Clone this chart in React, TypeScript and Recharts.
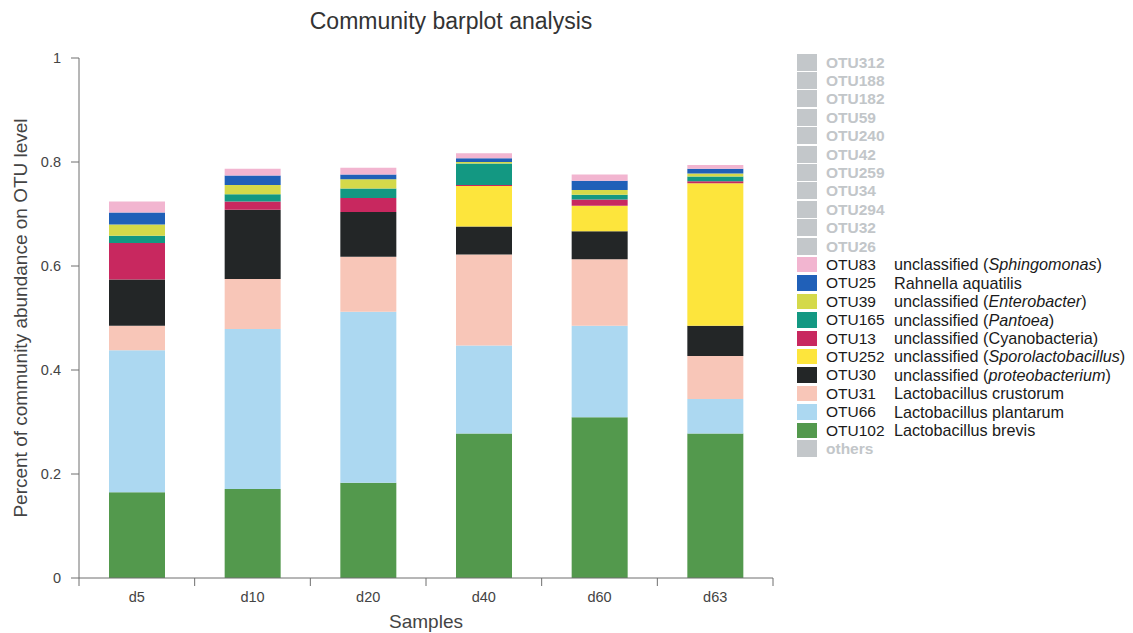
import { BarChart, Bar, XAxis, YAxis } from "recharts";

const C_AXIS = "#6f6f6f";
const C_TICK = "#444444";
const C_GREY = "#c3c7ca";
const C_GREY_TEXT = "#c2c6c9";
const FONT = "'Liberation Sans', Arial, sans-serif";

const samples = ["d5", "d10", "d20", "d40", "d60", "d63"];

// relative abundance per sample (bottom -> top)
const otu102 = [0.165, 0.171, 0.183, 0.278, 0.309, 0.278];
const otu66 = [0.273, 0.308, 0.329, 0.169, 0.176, 0.066];
const otu31 = [0.047, 0.096, 0.106, 0.175, 0.128, 0.083];
const otu30 = [0.089, 0.133, 0.086, 0.054, 0.054, 0.058];
const otu252 = [0, 0, 0, 0.078, 0.049, 0.274];
const otu13 = [0.07, 0.016, 0.027, 0.002, 0.012, 0.004];
const otu165 = [0.014, 0.014, 0.018, 0.041, 0.009, 0.009];
const otu39 = [0.022, 0.018, 0.018, 0.003, 0.009, 0.006];
const otu25 = [0.023, 0.018, 0.009, 0.007, 0.018, 0.009];
const otu83 = [0.021, 0.013, 0.013, 0.01, 0.012, 0.007];

const stackOrder = ["OTU102", "OTU66", "OTU31", "OTU30", "OTU252", "OTU13", "OTU165", "OTU39", "OTU25", "OTU83"];
const stackValues = [otu102, otu66, otu31, otu30, otu252, otu13, otu165, otu39, otu25, otu83];
const stackColors = ["#53994d", "#acd8f1", "#f8c6b8", "#232627", "#fde53c", "#c8285f", "#139882", "#d4d94a", "#2060b8", "#f2b5d0"];

// legend (top -> bottom)
const greyedOtus = ["OTU312", "OTU188", "OTU182", "OTU59", "OTU240", "OTU42", "OTU259", "OTU34", "OTU294", "OTU32", "OTU26"];
const legendOtus = ["OTU83", "OTU25", "OTU39", "OTU165", "OTU13", "OTU252", "OTU30", "OTU31", "OTU66", "OTU102"];
const legendTaxa = [
  "unclassified (*Sphingomonas*)",
  "Rahnella aquatilis",
  "unclassified (*Enterobacter*)",
  "unclassified (*Pantoea*)",
  "unclassified (Cyanobacteria)",
  "unclassified (*Sporolactobacillus*)",
  "unclassified (*proteobacterium*)",
  "Lactobacillus crustorum",
  "Lactobacillus plantarum",
  "Lactobacillus brevis",
];

const yTicks = [0, 0.2, 0.4, 0.6, 0.8, 1];

const data = samples.map((s, i) => {
  const row: Record<string, string | number> = { sample: s };
  stackOrder.forEach((k, j) => {
    row[k] = stackValues[j][i];
  });
  return row;
});

function Taxon({ text }: { text: string }) {
  const parts = text.split("*");
  return (
    <>
      {parts.map((p, i) => (i % 2 === 1 ? <i key={i}>{p}</i> : <span key={i}>{p}</span>))}
    </>
  );
}

function SampleTick(props: any) {
  const { x, y, payload, index, visibleTicksCount, width } = props;
  const half = width / visibleTicksCount / 2;
  const top = y - 14;
  return (
    <g>
      <line x1={x - half} x2={x - half} y1={top} y2={top + 8} stroke={C_AXIS} />
      {index === visibleTicksCount - 1 && (
        <line x1={x + half} x2={x + half} y1={top} y2={top + 8} stroke={C_AXIS} />
      )}
      <text x={x} y={y} dy="0.71em" textAnchor="middle" fill={C_TICK} fontSize={14.5} fontFamily={FONT}>
        {payload.value}
      </text>
    </g>
  );
}

function Legend() {
  const rows = [
    ...greyedOtus.map((o) => ({ otu: o, color: C_GREY, taxon: "", grey: true })),
    ...legendOtus.map((o, i) => ({
      otu: o,
      color: stackColors[stackOrder.indexOf(o)],
      taxon: legendTaxa[i],
      grey: false,
    })),
    { otu: "others", color: C_GREY, taxon: "", grey: true },
  ];
  return (
    <div style={{ position: "absolute", left: 797, top: 53, width: 336 }}>
      {rows.map((r, i) => (
        <div
          key={r.otu}
          style={{ position: "absolute", top: i * 18.4, left: 0, height: 18, width: 336 }}
        >
          <div
            style={{
              position: "absolute",
              left: 0,
              top: r.grey ? 0.5 : 1.5,
              width: 20,
              height: r.grey ? 17 : 15.5,
              background: r.color,
            }}
          />
          <div
            style={{
              position: "absolute",
              left: 29,
              top: 0.5,
              height: 18,
              lineHeight: "18px",
              fontFamily: FONT,
              fontSize: 15.5,
              fontWeight: r.grey ? 700 : 400,
              color: r.grey ? C_GREY_TEXT : "#1a1a1a",
              whiteSpace: "nowrap",
            }}
          >
            {r.otu}
          </div>
          {r.taxon && (
            <div
              style={{
                position: "absolute",
                left: 97,
                top: 0,
                height: 18,
                lineHeight: "18px",
                fontFamily: FONT,
                fontSize: 16.2,
                color: "#1a1a1a",
                whiteSpace: "nowrap",
              }}
            >
              <Taxon text={r.taxon} />
            </div>
          )}
        </div>
      ))}
    </div>
  );
}

export default function App() {
  return (
    <div style={{ position: "absolute", left: 0, top: 0, width: 1133, height: 633, background: "#fff" }}>
      <div
        style={{
          position: "absolute",
          left: 0,
          width: 902,
          top: 8,
          textAlign: "center",
          fontFamily: FONT,
          fontSize: 23,
          color: "#333",
        }}
      >
        Community barplot analysis
      </div>
      <BarChart
        width={1133}
        height={633}
        data={data}
        margin={{ top: 58, right: 360, bottom: 0, left: 0 }}
      >
        <XAxis
          dataKey="sample"
          height={55}
          stroke={C_AXIS}
          tickLine={false}
          tickSize={8}
          tickMargin={6}
          tick={<SampleTick />}
          label={{
            value: "Samples",
            position: "insideBottom",
            offset: 5,
            fill: "#444",
            fontSize: 19,
            fontFamily: FONT,
          }}
        />
        <YAxis
          width={79}
          domain={[0, 1]}
          ticks={yTicks}
          stroke={C_AXIS}
          tickSize={8}
          tickMargin={10}
          tick={{ fill: C_TICK, fontSize: 14.5, fontFamily: FONT }}
          label={{
            value: "Percent of community abundance on OTU level",
            angle: -90,
            position: "insideLeft",
            offset: 20,
            fill: "#444",
            fontSize: 19,
            fontFamily: FONT,
            style: { textAnchor: "middle" },
          }}
        />
        {stackOrder.map((k, j) => (
          <Bar
            key={k}
            dataKey={k}
            stackId="otu"
            fill={stackColors[j]}
            barSize={56}
            isAnimationActive={false}
          />
        ))}
      </BarChart>
      <Legend />
    </div>
  );
}
